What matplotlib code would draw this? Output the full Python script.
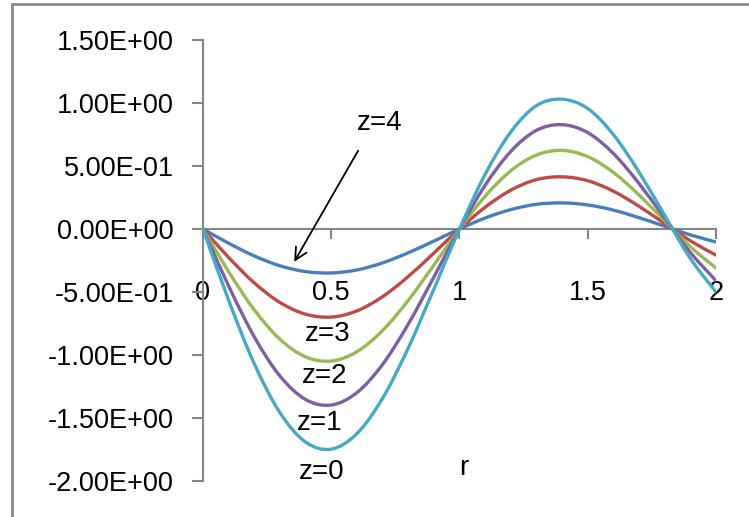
import matplotlib
matplotlib.use("Agg")
import matplotlib.pyplot as plt
from matplotlib.path import Path
from matplotlib.patches import PathPatch
from matplotlib.lines import Line2D
import numpy as np

plt.rcParams['font.family'] = ['Liberation Sans', 'DejaVu Sans']

r = [0.0, 0.1, 0.2, 0.3, 0.4, 0.5, 0.6, 0.7, 0.8, 0.9, 1.0,
     1.1, 1.2, 1.3, 1.4, 1.5, 1.6, 1.7, 1.8, 1.9, 2.0]

z0 = [0, -0.566, -1.070, -1.458, -1.691, -1.747, -1.624, -1.344, -0.945, -0.478, 0,
      0.434, 0.770, 0.979, 1.030, 0.956, 0.749, 0.451, 0.108, -0.234, -0.50]
z1 = [0, -0.453, -0.856, -1.167, -1.353, -1.397, -1.299, -1.075, -0.756, -0.382, 0,
      0.347, 0.616, 0.783, 0.828, 0.765, 0.599, 0.361, 0.086, -0.187, -0.41]
z2 = [0, -0.339, -0.642, -0.875, -1.015, -1.048, -0.974, -0.806, -0.567, -0.287, 0,
      0.260, 0.462, 0.587, 0.624, 0.574, 0.449, 0.270, 0.065, -0.141, -0.31]
z3 = [0, -0.226, -0.428, -0.583, -0.676, -0.699, -0.650, -0.537, -0.378, -0.191, 0,
      0.173, 0.308, 0.392, 0.414, 0.383, 0.300, 0.180, 0.043, -0.094, -0.207]
z4 = [0, -0.113, -0.214, -0.292, -0.338, -0.349, -0.325, -0.269, -0.189, -0.096, 0,
      0.087, 0.154, 0.196, 0.207, 0.191, 0.150, 0.090, 0.022, -0.047, -0.103]

series = [z4, z3, z2, z1, z0]
colors = ['#4A7EBB', '#BE4B48', '#98B954', '#7D60A0', '#46AAC5']

xticks = [0, 0.5, 1, 1.5, 2]
xticklabels = ['0', '0.5', '1', '1.5', '2']
yticks = [1.5, 1.0, 0.5, 0.0, -0.5, -1.0, -1.5, -2.0]
yticklabels = ['1.50E+00', '1.00E+00', '5.00E-01', '0.00E+00',
               '-5.00E-01', '-1.00E+00', '-1.50E+00', '-2.00E+00']


def smooth_path(xs, ys):
    pts = np.column_stack([xs, ys]).astype(float)
    n = len(pts)
    verts = [pts[0]]
    codes = [Path.MOVETO]
    for i in range(n - 1):
        p0 = pts[i - 1] if i > 0 else pts[i]
        p1 = pts[i]
        p2 = pts[i + 1]
        p3 = pts[i + 2] if i + 2 < n else pts[i + 1]
        c1 = p1 + (p2 - p0) / 6.0
        c2 = p2 - (p3 - p1) / 6.0
        verts += [c1, c2, p2]
        codes += [Path.CURVE4] * 3
    return Path(verts, codes)


fig = plt.figure(figsize=(7.49, 5.17), dpi=100)
ax = fig.add_axes([203 / 749, 1 - 481 / 517, (716 - 203) / 749, (481 - 40) / 517])
ax.set_xlim(0, 2)
ax.set_ylim(-2, 1.5)

gray = '#868686'
for s in ['top', 'right']:
    ax.spines[s].set_visible(False)
ax.spines['bottom'].set_position(('data', 0))
ax.spines['bottom'].set_color(gray)
ax.spines['left'].set_color(gray)
ax.spines['bottom'].set_linewidth(1.5)
ax.spines['left'].set_linewidth(1.5)

ax.set_xticks(xticks)
ax.set_xticklabels(xticklabels)
ax.set_yticks(yticks)
ax.set_yticklabels(yticklabels)
ax.tick_params(axis='y', direction='out', length=8, width=1.5, color=gray,
               pad=13, labelsize=19.5)
ax.tick_params(axis='x', direction='out', length=7, width=1.5, color=gray,
               pad=30, labelsize=19.5)

for ys, c in zip(series, colors):
    patch = PathPatch(smooth_path(r, ys), facecolor='none', edgecolor=c,
                      lw=2.4, capstyle='round', joinstyle='round', zorder=3)
    ax.add_patch(patch)

fs = 20
ax.text(0.69, 0.84, 'z=4', fontsize=fs, ha='center', va='center')
ax.text(0.487, -0.83, 'z=3', fontsize=fs, ha='center', va='center')
ax.text(0.476, -1.17, 'z=2', fontsize=fs, ha='center', va='center')
ax.text(0.456, -1.54, 'z=1', fontsize=fs, ha='center', va='center')
ax.text(0.463, -1.93, 'z=0', fontsize=fs, ha='center', va='center')
ax.text(1.017, -1.90, 'r', fontsize=fs, ha='center', va='center')

ax.annotate('', xy=(0.35, -0.28), xytext=(0.61, 0.64),
            arrowprops=dict(arrowstyle='->', color='black', lw=1.3,
                            mutation_scale=22), zorder=5)

# chart frame
fig.add_artist(Line2D([12 / 749, 12 / 749], [0, 1 - 4 / 517],
                      color='#8c8c8c', lw=2, transform=fig.transFigure))
fig.add_artist(Line2D([12 / 749, 1], [1 - 4 / 517, 1 - 4 / 517],
                      color='#8c8c8c', lw=2, transform=fig.transFigure))

fig.savefig('out.png', dpi=100)
